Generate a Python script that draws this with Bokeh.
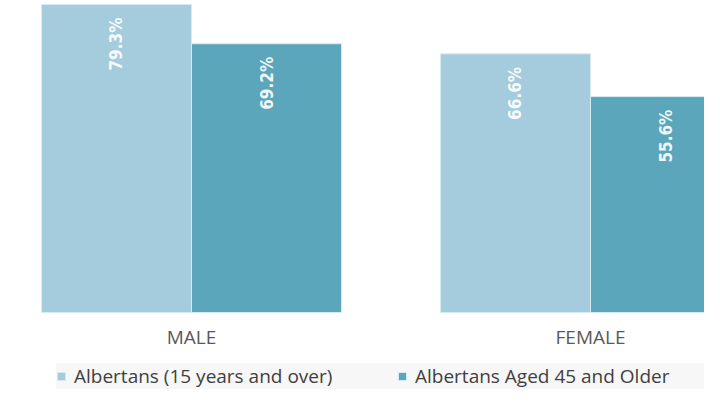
from bokeh.plotting import figure
from bokeh.models import ColumnDataSource, Legend, LegendItem, LabelSet, FixedTicker
from bokeh.transform import dodge
from bokeh.core.properties import value
from bokeh.embed import file_html
from bokeh.resources import INLINE
import math

categories = ["MALE", "FEMALE"]
series_names = ["Albertans (15 years and over)", "Albertans Aged 45 and Older"]
all_albertans = [79.3, 66.6]
aged_45_plus = [69.2, 55.6]
colors = ["#a4ccdc", "#5ca6bb"]

xs = list(range(len(categories)))
src = ColumnDataSource(dict(
    x=xs,
    v1=all_albertans,
    v2=aged_45_plus,
    l1=[f"{v}%" for v in all_albertans],
    l2=[f"{v}%" for v in aged_45_plus],
))

p = figure(width=704, height=389, x_range=(-0.4787, 1.2857), y_range=(-19.82, 80.33),
           output_backend="svg", toolbar_location=None, min_border=0)
p.outline_line_color = None
p.xgrid.visible = False
p.ygrid.visible = False
p.yaxis.visible = False
p.background_fill_color = "white"
p.border_fill_color = "white"

bw = 0.376
off = 0.188
r1 = p.vbar(x=dodge("x", -off), top="v1", bottom=0, width=bw, source=src,
            fill_color=colors[0], line_color="#d6eaf1", line_width=1)
r2 = p.vbar(x=dodge("x", off), top="v2", bottom=0, width=bw, source=src,
            fill_color=colors[1], line_color="#d6eaf1", line_width=1)

for col, fld, lab in ((-off, "v1", "l1"), (off, "v2", "l2")):
    ls = LabelSet(x=dodge("x", col), y=fld, text=lab, source=src,
                  angle=math.pi / 2, text_align="right", text_baseline="middle",
                  y_offset=-13, text_color="white", text_alpha=0.92,
                  text_font=value("DejaVu Sans Condensed"), text_font_style="bold",
                  text_font_size="17px")
    p.add_layout(ls)

ax = p.xaxis[0]
ax.fixed_location = 0
ax.ticker = FixedTicker(ticks=xs)
ax.major_label_overrides = {i: c for i, c in zip(xs, categories)}
ax.axis_line_color = None
ax.major_tick_line_color = None
ax.minor_tick_line_color = None
ax.major_tick_out = 0
ax.major_tick_in = 0
ax.major_label_standoff = 11
ax.major_label_text_font = "Open Sans"
ax.major_label_text_font_size = "19px"
ax.major_label_text_color = "#595959"

legend = Legend(items=[LegendItem(label=series_names[0], renderers=[r1]),
                       LegendItem(label=series_names[1], renderers=[r2])],
                orientation="horizontal", location=(56, 0),
                background_fill_color="#f7f7f7", background_fill_alpha=1,
                border_line_color=None, padding=4, margin=0,
                glyph_width=10, glyph_height=10, label_standoff=8,
                label_width=292, spacing=31,
                label_text_font="Open Sans", label_text_font_size="19px",
                label_text_color="#404040")
p.add_layout(legend, "center")

open("out.html", "w").write(file_html(p, INLINE))
